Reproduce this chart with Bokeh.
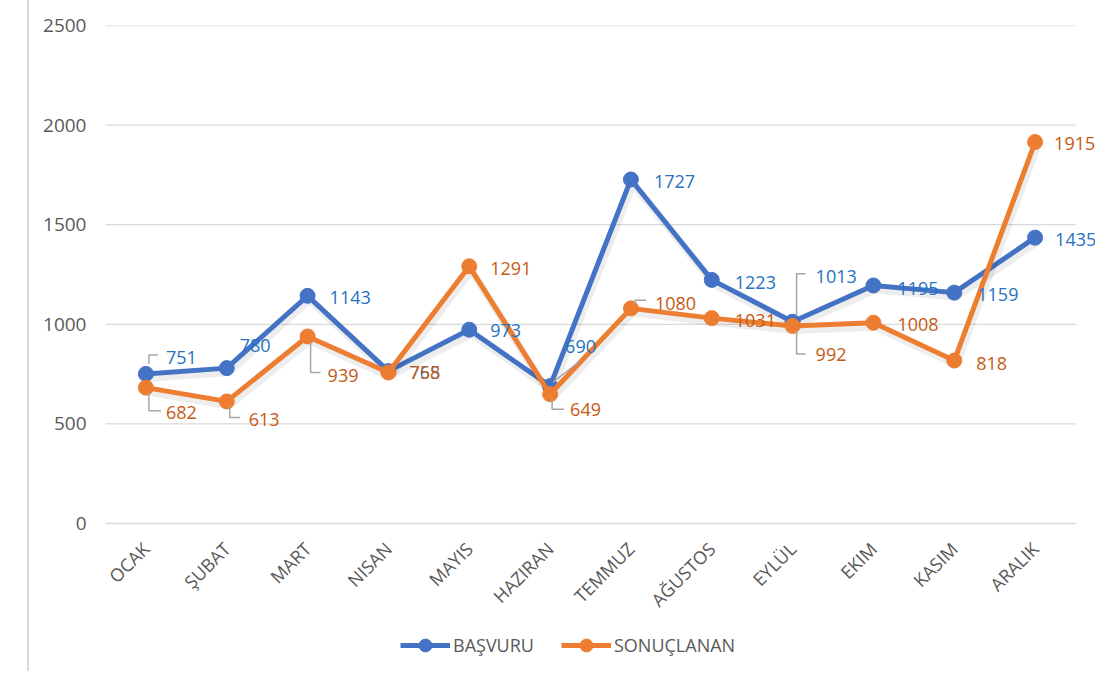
import math
from bokeh.plotting import figure
from bokeh.models import (FixedTicker, Range1d, Legend, LegendItem, ColumnDataSource)
from bokeh.core.properties import value
from bokeh.embed import file_html
from bokeh.resources import INLINE

# ---------------- data ----------------
months = ["OCAK", "ŞUBAT", "MART", "NISAN", "MAYIS", "HAZIRAN",
          "TEMMUZ", "AĞUSTOS", "EYLÜL", "EKIM", "KASIM", "ARALIK"]
basvuru = [751, 780, 1143, 765, 973, 690, 1727, 1223, 1013, 1195, 1159, 1435]
sonuclanan = [682, 613, 939, 758, 1291, 649, 1080, 1031, 992, 1008, 818, 1915]
y_ticks = [0, 500, 1000, 1500, 2000, 2500]
series_names = ["BAŞVURU", "SONUÇLANAN"]

# ---------------- styling ----------------
W, H = 1095, 671
ML, MT = 105, 25
PLOT_W, PLOT_H = 970, 498       # size of the value area (gridlines)
FW, FH = W - ML, H - MT
PXX = PLOT_W / len(months)      # px per category
PXY = PLOT_H / y_ticks[-1]      # px per unit
X_END = -0.5 + FW / PXX         # frame extends right for labels
Y_START = y_ticks[-1] - FH / PXY  # frame extends down for axis labels + legend

BLUE, ORANGE = "#4472C4", "#ED7D31"
BLUE_TXT, ORANGE_TXT = "#2672C0", "#C55A11"
GREY_TXT = "#595959"
GRID = "#D9D9D9"
LEADER = "#A6A6A6"
FONT = "Open Sans"

# label pixel offsets (dx right, dy down) relative to each point
blue_off = [(20, -16), (13, -23), (22, 2), (21, 1), (21, 1), (15, -40),
            (23, 2), (23, 3), (23, -45), (24, 3), (23, 2), (20, 2)]
orange_off = [(20, 25), (22, 18), (20, 39), (21, 0), (21, 2), (20, 15),
              (24, -5), (23, 2), (23, 29), (24, 2), (22, 3), (19, 1)]
# leader line pixel offsets relative to point
blue_leaders = {0: [(3, -10), (3, -19), (12, -19)],
                5: [(3, -4), (30, -25)],
                8: [(4, -6), (4, -48), (13, -48)]}
orange_leaders = {0: [(3, 5), (3, 23), (15, 23)],
                  1: [(3, 6), (3, 16), (13, 16)],
                  2: [(3, 6), (3, 36), (13, 36)],
                  5: [(2, 5), (2, 15), (14, 15)],
                  6: [(4, -4), (4, -8), (15, -8)],
                  8: [(4, 4), (4, 28), (13, 28)]}

xs = list(range(len(months)))

p = figure(width=W, height=H, output_backend="svg", toolbar_location=None,
           x_range=Range1d(-0.5, X_END), y_range=Range1d(Y_START, y_ticks[-1]),
           min_border_left=ML, min_border_right=0, min_border_top=MT, min_border_bottom=0,
           outline_line_color=None, background_fill_color="white",
           border_fill_alpha=0,
           styles={"background": "linear-gradient(to right, #ffffff 27px, #D9D9D9 27px, "
                                 "#D9D9D9 29px, #ffffff 29px)"})

# axes
p.xaxis.fixed_location = 0
p.xaxis.ticker = FixedTicker(ticks=xs)
p.xaxis.major_label_overrides = {i: m for i, m in enumerate(months)}
p.xaxis.major_label_orientation = math.pi / 4
p.xaxis.major_label_text_font = FONT
p.xaxis.major_label_text_font_size = "18px"
p.xaxis.major_label_text_color = GREY_TXT
p.xaxis.major_label_standoff = 16
p.xaxis.axis_line_color = None
p.xaxis.major_tick_line_color = None
p.xaxis.minor_tick_line_color = None

p.yaxis.ticker = FixedTicker(ticks=y_ticks)
p.yaxis.major_label_text_font = FONT
p.yaxis.major_label_text_font_size = "19px"
p.yaxis.major_label_text_color = GREY_TXT
p.yaxis.major_label_standoff = 13
p.yaxis.axis_line_color = None
p.yaxis.major_tick_line_color = None
p.yaxis.minor_tick_line_color = None

p.xgrid.visible = False
p.ygrid.visible = False
# horizontal gridlines over the category area only
p.segment(x0=[-0.5] * len(y_ticks), x1=[len(months) - 0.5] * len(y_ticks),
          y0=y_ticks, y1=y_ticks, line_color=GRID, line_width=1.3)


def leader_lines(vals, leaders):
    lx, ly = [], []
    for i, pts in leaders.items():
        lx.append([xs[i] + ox / PXX for ox, oy in pts])
        ly.append([vals[i] - oy / PXY for ox, oy in pts])
    return lx, ly


series = [(basvuru, BLUE, BLUE_TXT, blue_off, blue_leaders),
          (sonuclanan, ORANGE, ORANGE_TXT, orange_off, orange_leaders)]

renderers = []
for vals, col, txtcol, offs, leads in series:
    # soft shadow
    p.line(x=[x + 2 / PXX for x in xs], y=[v - 4 / PXY for v in vals], line_width=8,
           color="#000000", alpha=0.07)
    ln = p.line(x=xs, y=vals, line_width=5, color=col, line_join="round")
    sc = p.scatter(x=xs, y=vals, size=15, color=col, line_color=col)
    renderers.append([ln, sc])

for vals, col, txtcol, offs, leads in series:
    lx, ly = leader_lines(vals, leads)
    p.multi_line(xs=lx, ys=ly, line_color=LEADER, line_width=1.5)
    src = ColumnDataSource(dict(x=xs, y=vals, t=[str(v) for v in vals],
                                dx=[o[0] for o in offs], dy=[o[1] for o in offs]))
    p.text(x="x", y="y", text="t", x_offset="dx", y_offset="dy", source=src,
           text_font=value(FONT), text_font_size="18px", text_color=txtcol,
           text_align="left", text_baseline="middle")

legend = Legend(items=[LegendItem(label=series_names[0], renderers=renderers[0]),
                       LegendItem(label=series_names[1], renderers=renderers[1])],
                location=(295, 10), orientation="horizontal",
                glyph_width=50, glyph_height=32, label_standoff=3, spacing=27,
                padding=0, margin=0, border_line_color=None, background_fill_alpha=0,
                label_text_font=FONT, label_text_font_size="18px",
                label_text_color=GREY_TXT)
p.add_layout(legend)

open("out.html", "w").write(file_html(p, INLINE))
